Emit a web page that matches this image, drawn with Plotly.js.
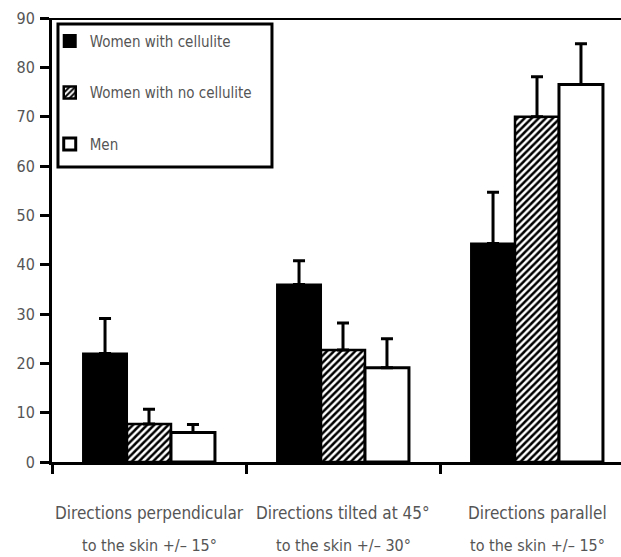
<!DOCTYPE html>
<html>
<head>
<meta charset="utf-8">
<script src="https://cdn.plot.ly/plotly-3.0.1.min.js"></script>
<style>html,body{margin:0;padding:0;background:#fff;}#chart{width:621px;height:557px;}</style>
</head>
<body>
<div id="chart"></div>
<script>
const categories = ["perpendicular", "tilted", "parallel"];
const labelLine1 = ["Directions perpendicular", "Directions tilted at 45°", "Directions parallel"];
const labelLine2 = ["to the skin +/– 15°", "to the skin +/– 30°", "to the skin +/– 15°"];
const seriesNames = ["Women with cellulite", "Women with no cellulite", "Men"];
const cellulite = [22.0, 36.0, 44.3];
const celluliteErr = [7.1, 4.8, 10.4];
const noCellulite = [7.7, 22.7, 70.0];
const noCelluliteErr = [3.0, 5.5, 8.1];
const men = [6.0, 19.1, 76.5];
const menErr = [1.6, 5.9, 8.3];
const yTicks = [0, 10, 20, 30, 40, 50, 60, 70, 80, 90];

const FONT = "'Liberation Sans Narrow', 'DejaVu Sans Condensed', 'Roboto Condensed', sans-serif";
const zeros = categories.map(() => 0);

function barTrace(name, vals, errs, style, group) {
  return Object.assign({
    type: 'bar', name: name, x: categories, y: vals, legendgroup: group,
    error_y: {type: 'data', symmetric: false, array: errs, arrayminus: zeros,
              color: '#000', thickness: 3, width: 6, visible: true},
    hoverinfo: 'skip'
  }, style);
}

const traces = [
  barTrace(seriesNames[0], cellulite, celluliteErr,
    {marker: {color: '#000', line: {color: '#000', width: 2}}}, 'g1'),
  barTrace(seriesNames[1], noCellulite, noCelluliteErr,
    {marker: {color: '#fff', line: {color: '#000', width: 2.5},
      pattern: {shape: '/', fgcolor: '#000', bgcolor: '#fff', size: 5, solidity: 0.5, fillmode: 'replace'}}}, 'g2'),
  barTrace(seriesNames[2], men, menErr,
    {marker: {color: '#fff', line: {color: '#000', width: 3}}}, 'g3')
];

const annotations = [];
categories.forEach((c, i) => {
  annotations.push({xref: 'x', yref: 'paper', x: c, y: 0, yanchor: 'middle', yshift: -51,
    text: labelLine1[i], showarrow: false, font: {family: FONT, size: 17, color: '#555'}});
  annotations.push({xref: 'x', yref: 'paper', x: c, y: 0, yanchor: 'middle', yshift: -83,
    text: labelLine2[i], showarrow: false, font: {family: FONT, size: 16, color: '#555'}});
});

const layout = {
  width: 621, height: 557,
  margin: {l: 52, r: 0, t: 18, b: 95, pad: 0},
  paper_bgcolor: '#fff', plot_bgcolor: '#fff',
  font: {family: FONT, color: '#555', size: 17},
  barmode: 'group', bargap: 0.32, bargroupgap: 0,
  showlegend: true,
  legend: {x: -0.004, y: 0.985, xanchor: 'left', yanchor: 'top', bgcolor: 'rgba(0,0,0,0)',
    borderwidth: 0, traceorder: 'grouped', tracegroupgap: 29,
    font: {family: FONT, size: 15, color: '#555'}, itemwidth: 30},
  xaxis: {type: 'category', categoryarray: categories, range: [-0.5, 2.433],
    tickson: 'boundaries', ticks: 'outside', ticklen: 9, tickwidth: 3, tickcolor: '#000',
    showticklabels: false, showline: true, linewidth: 3, linecolor: '#000',
    showgrid: false, zeroline: false, fixedrange: true},
  yaxis: {range: [0, 90], tickvals: yTicks, ticktext: yTicks.map(String),
    ticks: 'outside', ticklen: 9, tickwidth: 3, tickcolor: '#000',
    showline: true, linewidth: 3, linecolor: '#000', showgrid: false, zeroline: false,
    tickfont: {family: FONT, size: 16, color: '#555'}, ticklabelstandoff: 2, fixedrange: true},
  shapes: [
    {type: 'line', xref: 'paper', yref: 'y', x0: 0, x1: 1, y0: 90, y1: 90,
     line: {color: '#000', width: 4}},
    {type: 'rect', xref: 'paper', yref: 'paper', x0: 0.0105, x1: 0.3866, y0: 0.6644, y1: 0.9865,
     line: {color: '#000', width: 3}, fillcolor: 'rgba(0,0,0,0)'}
  ],
  annotations: annotations
};

Plotly.newPlot('chart', traces, layout, {displayModeBar: false, staticPlot: true});
</script>
</body>
</html>
